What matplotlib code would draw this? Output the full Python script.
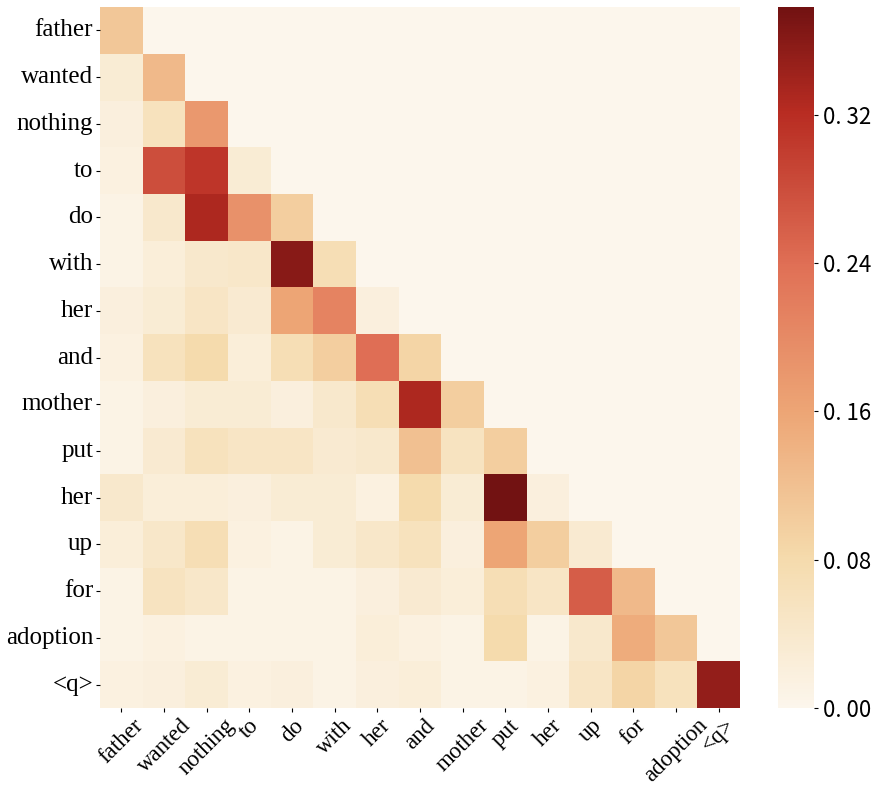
import numpy as np
import matplotlib
matplotlib.use("Agg")
import matplotlib.pyplot as plt
import seaborn as sns
from matplotlib.colors import LinearSegmentedColormap

tokens = ["father", "wanted", "nothing", "to", "do", "with", "her", "and",
          "mother", "put", "her", "up", "for", "adoption", "<q>"]

# lower-triangular attention weights, row by row (query -> keys)
rows = [
    [0.11],
    [0.03, 0.13],
    [0.02, 0.06, 0.18],
    [0.015, 0.28, 0.31, 0.03],
    [0.01, 0.04, 0.33, 0.19, 0.10],
    [0.01, 0.025, 0.04, 0.045, 0.36, 0.07],
    [0.02, 0.03, 0.05, 0.035, 0.16, 0.21, 0.02],
    [0.015, 0.06, 0.08, 0.025, 0.07, 0.10, 0.24, 0.09],
    [0.01, 0.02, 0.03, 0.03, 0.02, 0.04, 0.07, 0.33, 0.10],
    [0.01, 0.035, 0.06, 0.05, 0.05, 0.035, 0.04, 0.12, 0.055, 0.10],
    [0.04, 0.025, 0.025, 0.02, 0.03, 0.03, 0.015, 0.08, 0.03, 0.378, 0.02],
    [0.025, 0.045, 0.07, 0.015, 0.01, 0.03, 0.045, 0.06, 0.02, 0.16, 0.10, 0.035],
    [0.01, 0.055, 0.045, 0.01, 0.01, 0.01, 0.02, 0.035, 0.025, 0.07, 0.05, 0.26, 0.13],
    [0.01, 0.015, 0.01, 0.01, 0.01, 0.01, 0.025, 0.015, 0.01, 0.08, 0.01, 0.04, 0.15, 0.11],
    [0.015, 0.02, 0.03, 0.015, 0.02, 0.01, 0.02, 0.025, 0.01, 0.01, 0.015, 0.05, 0.09, 0.06, 0.35],
]

n = len(tokens)
attn = np.zeros((n, n))
for i, r in enumerate(rows):
    attn[i, :len(r)] = r

# a softer OrRd, closer to the look of the original figure
cmap = LinearSegmentedColormap.from_list("soft_orrd", [
    (0.00, "#fcf6ec"),
    (0.21, "#f5dbad"),
    (0.42, "#eda676"),
    (0.63, "#e07056"),
    (0.85, "#b82c22"),
    (1.00, "#721212"),
])

fig = plt.figure(figsize=(8.73, 7.88), dpi=100)
ax = fig.add_axes([0.1145, 0.1015, 0.733, 0.8895])
cax = fig.add_axes([0.891, 0.1015, 0.041, 0.8895])

sns.heatmap(attn, ax=ax, cbar_ax=cax, cmap=cmap, vmin=0, vmax=0.378,
            xticklabels=tokens, yticklabels=tokens)

ax.set_xticklabels(tokens, rotation=45, fontsize=16.5, family="Liberation Serif")
ax.set_yticklabels(tokens, rotation=0, fontsize=18, family="Liberation Serif")
ax.tick_params(length=3, width=0.8, pad=2)

ticks = [0.0, 0.08, 0.16, 0.24, 0.32]
cax.set_yticks(ticks)
cax.set_yticklabels([f"{t:.2f}".replace(".", ". ") for t in ticks],
                    fontsize=16, family="Noto Sans CJK SC")
cax.tick_params(length=3, width=0.8)

fig.savefig("out.png", dpi=100)
